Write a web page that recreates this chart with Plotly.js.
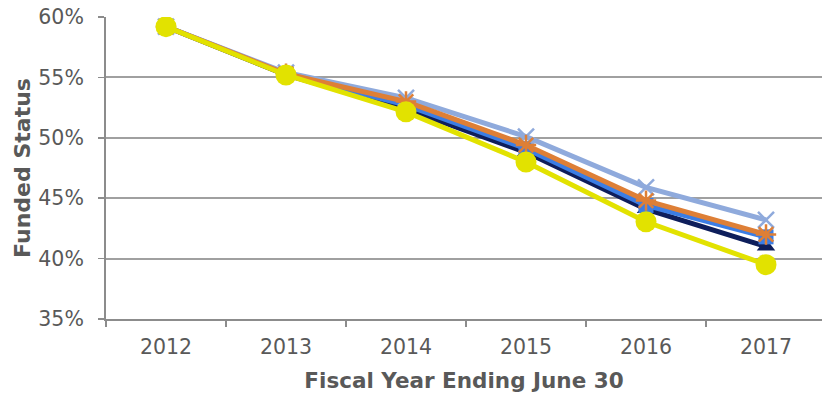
<!DOCTYPE html>
<html>
<head>
<meta charset="utf-8">
<script src="https://cdn.plot.ly/plotly-3.0.1.min.js"></script>
<style>
  html, body { margin: 0; padding: 0; background: #fff; }
  #chart { width: 822px; height: 393px; }
</style>
</head>
<body>
<div id="chart"></div>
<script>
// Fiscal years (category axis)
const years = ["2012", "2013", "2014", "2015", "2016", "2017"];

// Funded status (%) by scenario
const navySeries      = [59.2, 55.2, 52.4, 48.8, 44.1, 41.0];
const blueSeries      = [59.2, 55.3, 52.7, 49.1, 44.4, 41.8];
const lightBlueSeries = [59.2, 55.4, 53.3, 50.1, 45.9, 43.2];
const orangeSeries    = [59.2, 55.3, 53.0, 49.4, 44.8, 42.0];
const yellowSeries    = [59.2, 55.2, 52.15, 48.0, 43.05, 39.5];

const yTicks = [35, 40, 45, 50, 55, 60];

function series(y, color, symbol, size) {
  return {
    x: years, y: y, type: "scatter", mode: "lines+markers",
    line: { color: color, width: 5 },
    marker: {
      symbol: symbol, size: size, color: color,
      line: { color: color, width: symbol.indexOf("open") >= 0 ? 2.5 : 0 }
    },
    hoverinfo: "skip"
  };
}

const data = [
  series(navySeries, "#0E1E5B", "triangle-up", 16),
  series(blueSeries, "#3B7DE4", "square", 15),
  series(lightBlueSeries, "#8FAADC", "x-thin-open", 16),
  series(orangeSeries, "#DE7F36", "asterisk-open", 17),
  series(yellowSeries, "#E2E200", "circle", 21)
];

const fam = "DejaVu Sans, Verdana, sans-serif";
const tickFont = { family: fam, size: 20.5, color: "#595959" };

const layout = {
  width: 822, height: 393,
  margin: { l: 106, r: 0, t: 17, b: 74 },
  paper_bgcolor: "#fff", plot_bgcolor: "#fff",
  showlegend: false,
  xaxis: {
    type: "category",
    range: [-0.5, 5.4667],
    tickson: "boundaries",
    ticks: "outside", ticklen: 6, tickcolor: "#8c8c8c", tickwidth: 1.5,
    showline: true, linecolor: "#8c8c8c", linewidth: 2,
    showgrid: false, zeroline: false,
    tickfont: tickFont,
    ticklabelstandoff: 8,
    title: { text: "Fiscal Year Ending June 30", font: { family: fam, size: 21.5, color: "#595959", weight: "bold" }, standoff: 15 }
  },
  yaxis: {
    range: [35, 60],
    tickvals: yTicks,
    ticktext: yTicks.map(v => v + "%"),
    ticks: "outside", ticklen: 6, tickcolor: "#8c8c8c", tickwidth: 1.5,
    showline: true, linecolor: "#8c8c8c", linewidth: 2,
    showgrid: true, gridcolor: "#a0a0a0", gridwidth: 2,
    zeroline: false,
    tickfont: tickFont,
    ticklabelstandoff: 10,
    title: { text: "Funded Status", font: { family: fam, size: 22, color: "#595959", weight: "bold" }, standoff: 2 }
  }
};

Plotly.newPlot("chart", data, layout, { staticPlot: true, displayModeBar: false });
</script>
</body>
</html>
